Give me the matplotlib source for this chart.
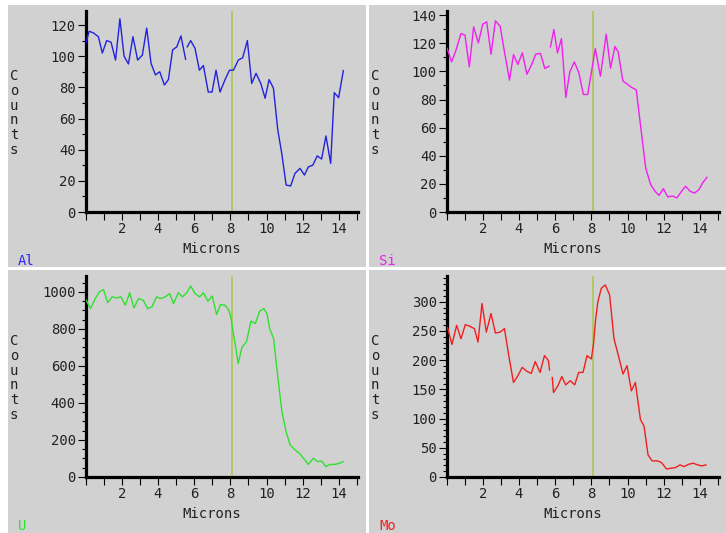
import numpy as np
import matplotlib
matplotlib.use("Agg")
import matplotlib.pyplot as plt
from matplotlib.patches import Rectangle
from matplotlib.ticker import FixedLocator, FixedFormatter

nan = float('nan')

# ---------------- data ----------------
al_x = [0.03, 0.2, 0.43, 0.71, 0.93, 1.17, 1.41, 1.66, 1.9, 2.13, 2.37, 2.62, 2.88, 3.14,
        3.38, 3.62, 3.86, 4.1, 4.36, 4.58, 4.81, 5.04, 5.27, 5.53, 5.58, 5.62, 5.81, 6.05,
        6.29, 6.51, 6.78, 6.99, 7.21, 7.43, 7.71, 7.95, 8.17, 8.44, 8.68, 8.94, 9.18, 9.42,
        9.68, 9.92, 10.14, 10.38, 10.62, 10.84, 11.08, 11.33, 11.57, 11.85, 12.09, 12.31,
        12.55, 12.8, 13.04, 13.28, 13.54, 13.74, 13.98, 14.24]
al_y = [108.7, 116, 115, 112.5, 102, 110, 109, 97.5, 124, 100, 95, 112.5, 97.5, 100.7,
        118, 95.4, 88, 90, 81.5, 85, 104, 106, 113, 98, nan, 106, 110, 105,
        91, 94, 77, 77, 91, 77, 85, 91, 91, 97.5, 99, 110, 82.5, 89,
        82.5, 73, 85, 79.4, 52.6, 37.6, 17.3, 16.7, 24.8, 28, 23.7, 29,
        30, 36, 34, 48.8, 31.2, 76.6, 73.4, 90.7]

si_x = [0.04, 0.28, 0.52, 0.8, 1.02, 1.26, 1.5, 1.76, 2.0, 2.22, 2.46, 2.7, 2.96, 3.2,
        3.48, 3.7, 3.94, 4.19, 4.44, 4.69, 4.93, 5.19, 5.43, 5.67, 5.7, 5.74, 5.93, 6.13,
        6.35, 6.59, 6.81, 7.06, 7.31, 7.56, 7.8, 8.02, 8.22, 8.5, 8.82, 9.06, 9.3, 9.48,
        9.74, 9.98, 10.23, 10.48, 10.6, 10.82, 11.0, 11.28, 11.52, 11.74, 11.98, 12.22,
        12.48, 12.72, 12.98, 13.2, 13.46, 13.7, 13.94, 14.14, 14.38]
si_y = [116.3, 106.8, 115, 127, 125.8, 103.3, 131.7, 120.3, 133.6, 135.3, 112.3, 136, 132.2, 114,
        93.8, 112, 105, 113.2, 98, 104.5, 112.3, 112.8, 102.1, 103.8, nan, 117.5, 129.8, 113.2,
        123.4, 81.5, 99.7, 106.8, 99, 83.6, 83.6, 100.9, 116.3, 96.6, 126.5, 102.3, 117.8, 114,
        93.3, 91, 88.6, 86.9, 74, 50.5, 31.3, 19.4, 14.7, 11.8, 16.6, 10.7,
        11.4, 10, 14.7, 18.3, 14.7, 13.5, 15.9, 20.6, 24.7]

u_x = [0.04, 0.28, 0.54, 0.77, 0.99, 1.23, 1.47, 1.72, 1.96, 2.2, 2.44, 2.68, 2.93, 3.19,
       3.43, 3.67, 3.92, 4.16, 4.4, 4.65, 4.86, 5.13, 5.35, 5.59, 5.81, 6.05, 6.31, 6.51,
       6.76, 7.0, 7.24, 7.46, 7.7, 7.92, 8.04, 8.15, 8.28, 8.43, 8.65, 8.89, 9.14, 9.38,
       9.62, 9.84, 10.02, 10.17, 10.39, 10.63, 10.85, 11.08, 11.3, 11.58, 11.81, 12.04,
       12.31, 12.58, 12.82, 13.04, 13.28, 13.5, 13.77, 14.01, 14.23]
u_y = [955, 910, 964, 1000, 1013, 942, 973, 968, 973, 928, 996, 914, 964, 955,
       910, 919, 973, 964, 973, 991, 937, 996, 973, 996, 1032, 991, 973, 996,
       950, 978, 878, 932, 928, 901, 856, 784, 712, 613, 703, 730, 842, 829,
       896, 910, 883, 802, 748, 532, 353, 245, 173, 146, 128, 101,
       68, 101, 83, 86, 56, 68, 68, 74, 83]

mo_x = [0.06, 0.3, 0.56, 0.8, 1.04, 1.3, 1.54, 1.74, 1.96, 2.2, 2.46, 2.7, 2.96, 3.2,
        3.44, 3.7, 3.94, 4.18, 4.44, 4.68, 4.9, 5.17, 5.41, 5.63, 5.69, 5.76, 5.84, 5.91,
        6.15, 6.37, 6.58, 6.84, 7.08, 7.3, 7.54, 7.76, 8.0, 8.12, 8.23, 8.36, 8.55, 8.77,
        9.01, 9.25, 9.47, 9.75, 9.97, 10.21, 10.43, 10.71, 10.91, 11.13, 11.35, 11.65,
        11.87, 12.15, 12.39, 12.65, 12.89, 13.13, 13.39, 13.63, 13.87, 14.09, 14.33]
mo_y = [255.6, 226.8, 259.6, 236.6, 260.8, 257.9, 253.9, 230.9, 297, 248, 279.8, 246.4, 248, 253.9,
        207.8, 161.8, 173.3, 187.7, 180.8, 177.3, 197.5, 179, 207.8, 199.2, 183, nan, 170.4, 144.5,
        156, 172, 157.7, 164.7, 157.7, 179, 179, 207.8, 202, 228, 268, 300, 323, 328.7,
        311.5, 236.6, 210.7, 176.2, 190.6, 147.4, 161.8, 98.4, 87, 38, 27.6, 27.6,
        24.8, 13.8, 15, 16.1, 20.7, 17.8, 21.9, 23.6, 20.7, 19, 20.7]

element_names = ["Al", "Si", "U", "Mo"]
cursor_x = 8.1
x_major = [0, 2, 4, 6, 8, 10, 12, 14]
x_major_labels = ["", "2", "4", "6", "8", "10", "12", "14"]
x_minor = [1, 3, 5, 7, 9, 11, 13, 15]
al_yticks = [0, 20, 40, 60, 80, 100, 120]
si_yticks = [0, 20, 40, 60, 80, 100, 120, 140]
u_yticks = [0, 200, 400, 600, 800, 1000]
mo_yticks = [0, 50, 100, 150, 200, 250, 300]

# ---------------- styling ----------------
W, H = 726, 533
GRAY = "#d1d1d1"
TXT = "#222222"
plt.rcParams['font.family'] = ['DejaVu Sans Mono']
FS = 10

fig = plt.figure(figsize=(W / 100, H / 100), dpi=100, facecolor="white")

panels = [
    dict(px=8, py=5, pw=358, ph=262, x=al_x, y=al_y, color="#2222dd", lab="#2a2aff",
         yt=al_yticks, ymax=129, yminor=10),
    dict(px=369, py=5, pw=357, ph=262, x=si_x, y=si_y, color="#f020f0", lab="#f020f0",
         yt=si_yticks, ymax=143, yminor=10),
    dict(px=8, py=270, pw=358, ph=263, x=u_x, y=u_y, color="#30e030", lab="#30e030",
         yt=u_yticks, ymax=1086, yminor=50),
    dict(px=369, py=270, pw=357, ph=263, x=mo_x, y=mo_y, color="#f02020", lab="#f02020",
         yt=mo_yticks, ymax=344, yminor=10),
]


def fx(x):
    return x / W


def fy(y):
    return 1 - y / H


for name, p in zip(element_names, panels):
    px, py, pw, ph = p["px"], p["py"], p["pw"], p["ph"]
    fig.patches.append(Rectangle((fx(px), fy(py + ph)), pw / W, ph / H,
                                 transform=fig.transFigure, facecolor=GRAY,
                                 edgecolor="none", zorder=-10))
    ax = fig.add_axes([fx(px + 77.5), fy(py + 207), 272.5 / W, 201 / H])
    ax.set_facecolor("none")
    xs = np.array(p["x"], dtype=float)
    ys = np.array(p["y"], dtype=float)
    ax.plot(xs, ys, color=p["color"], lw=1.0, zorder=3)
    ax.axvline(cursor_x, color="#a8c850", lw=1.2, zorder=2)
    ax.set_xlim(0, 15.05)
    ax.set_ylim(0, p["ymax"])
    for s in ["top", "right"]:
        ax.spines[s].set_visible(False)
    for s in ["left", "bottom"]:
        ax.spines[s].set_linewidth(2.3)
        ax.spines[s].set_color("black")
    ax.xaxis.set_major_locator(FixedLocator(x_major))
    ax.xaxis.set_major_formatter(FixedFormatter(x_major_labels))
    ax.xaxis.set_minor_locator(FixedLocator(x_minor))
    yt = p["yt"]
    ax.yaxis.set_major_locator(FixedLocator(yt))
    ax.yaxis.set_major_formatter(FixedFormatter([str(v) for v in yt]))
    ymin_ticks = [v for v in np.arange(0, p["ymax"], p["yminor"]) if v not in yt]
    ax.yaxis.set_minor_locator(FixedLocator(ymin_ticks))
    ax.tick_params(axis="x", which="major", length=5.5, width=0.8, pad=2,
                   labelsize=FS, labelcolor=TXT, color="black")
    ax.tick_params(axis="x", which="minor", length=5.5, width=0.8, color="black")
    ax.tick_params(axis="y", which="major", length=6, width=0.8, pad=1,
                   labelsize=FS, labelcolor=TXT, color="black")
    ax.tick_params(axis="y", which="minor", length=3, width=0.8, color="black")

    fig.text(fx(px + 204), fy(py + 244), "Microns", ha="center", va="center",
             fontsize=FS, color=TXT)
    fig.text(fx(px + 6), fy(py + 108), "C\no\nu\nn\nt\ns", ha="center", va="center",
             fontsize=FS, color=TXT, linespacing=1.07)
    fig.text(fx(px + 10), fy(py + 256), name, ha="left", va="center",
             fontsize=FS, color=p["lab"])

fig.savefig("out.png", dpi=100, facecolor="white")
